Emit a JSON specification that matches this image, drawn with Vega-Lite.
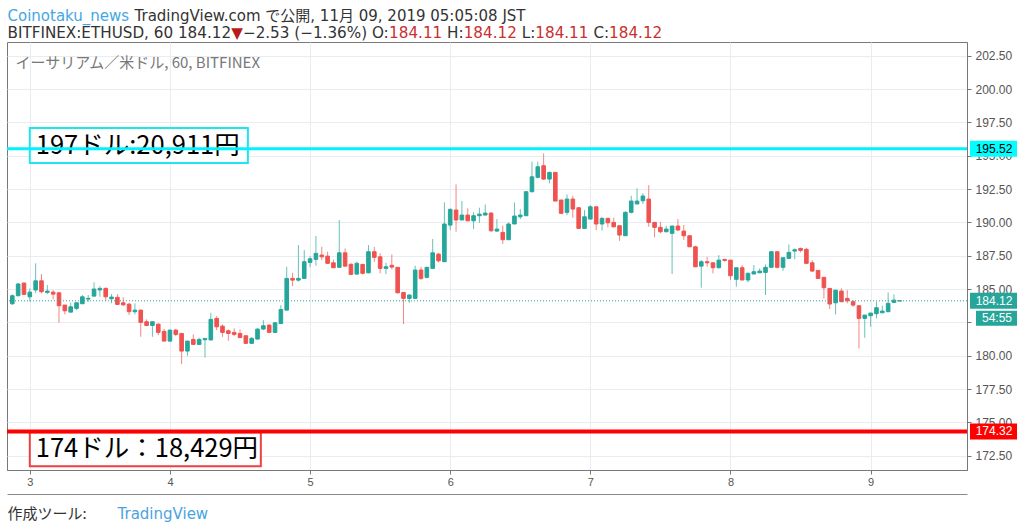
{
  "$schema": "https://vega.github.io/schema/vega-lite/v6.json",
  "width": 960,
  "height": 428,
  "autosize": {"type": "none"},
  "padding": {"left": 7, "top": 42, "right": 57, "bottom": 60},
  "background": "#ffffff",
  "datasets": {
    "candles": [
      {"t": "2019-11-02T21:00Z", "o": 183.9, "h": 184.6, "l": 183.8, "c": 184.5},
      {"t": "2019-11-02T22:00Z", "o": 184.5, "h": 185.45, "l": 184.45, "c": 185.38},
      {"t": "2019-11-02T23:00Z", "o": 185.45, "h": 185.5, "l": 184.55, "c": 184.6},
      {"t": "2019-11-03T00:00Z", "o": 184.42, "h": 185.05, "l": 184.05, "c": 184.77},
      {"t": "2019-11-03T01:00Z", "o": 184.93, "h": 186.93, "l": 184.68, "c": 185.62},
      {"t": "2019-11-03T02:00Z", "o": 185.62, "h": 186.13, "l": 184.68, "c": 184.8},
      {"t": "2019-11-03T03:00Z", "o": 184.75, "h": 185.3, "l": 184.62, "c": 184.85},
      {"t": "2019-11-03T04:00Z", "o": 184.77, "h": 184.92, "l": 184.23, "c": 184.62},
      {"t": "2019-11-03T05:00Z", "o": 184.72, "h": 184.75, "l": 182.47, "c": 183.75},
      {"t": "2019-11-03T06:00Z", "o": 183.8, "h": 183.8, "l": 183.1, "c": 183.37},
      {"t": "2019-11-03T07:00Z", "o": 183.27, "h": 183.97, "l": 183.27, "c": 183.67},
      {"t": "2019-11-03T08:00Z", "o": 183.55, "h": 184.0, "l": 183.42, "c": 183.97},
      {"t": "2019-11-03T09:00Z", "o": 183.9, "h": 184.55, "l": 183.9, "c": 184.42},
      {"t": "2019-11-03T10:00Z", "o": 184.25, "h": 184.55, "l": 184.05, "c": 184.3},
      {"t": "2019-11-03T11:00Z", "o": 184.47, "h": 185.5, "l": 184.47, "c": 185.0},
      {"t": "2019-11-03T12:00Z", "o": 184.93, "h": 185.22, "l": 184.42, "c": 185.05},
      {"t": "2019-11-03T13:00Z", "o": 185.05, "h": 185.13, "l": 184.12, "c": 184.42},
      {"t": "2019-11-03T14:00Z", "o": 184.27, "h": 184.62, "l": 183.93, "c": 184.4},
      {"t": "2019-11-03T15:00Z", "o": 184.38, "h": 184.62, "l": 183.8, "c": 183.85},
      {"t": "2019-11-03T16:00Z", "o": 183.97, "h": 184.38, "l": 183.72, "c": 183.82},
      {"t": "2019-11-03T17:00Z", "o": 183.87, "h": 183.97, "l": 183.05, "c": 183.3},
      {"t": "2019-11-03T18:00Z", "o": 183.3, "h": 183.93, "l": 183.1, "c": 183.42},
      {"t": "2019-11-03T19:00Z", "o": 183.42, "h": 183.45, "l": 181.42, "c": 182.5},
      {"t": "2019-11-03T20:00Z", "o": 182.55, "h": 182.73, "l": 182.22, "c": 182.27},
      {"t": "2019-11-03T21:00Z", "o": 182.27, "h": 182.6, "l": 181.42, "c": 182.55},
      {"t": "2019-11-03T22:00Z", "o": 182.37, "h": 182.4, "l": 181.55, "c": 181.75},
      {"t": "2019-11-03T23:00Z", "o": 181.83, "h": 182.02, "l": 181.1, "c": 181.1},
      {"t": "2019-11-04T00:00Z", "o": 181.1, "h": 181.97, "l": 181.05, "c": 181.92},
      {"t": "2019-11-04T01:00Z", "o": 181.92, "h": 182.02, "l": 181.47, "c": 181.6},
      {"t": "2019-11-04T02:00Z", "o": 181.67, "h": 181.7, "l": 179.37, "c": 180.35},
      {"t": "2019-11-04T03:00Z", "o": 180.35, "h": 181.1, "l": 180.0, "c": 181.1},
      {"t": "2019-11-04T04:00Z", "o": 181.22, "h": 181.6, "l": 180.8, "c": 180.85},
      {"t": "2019-11-04T05:00Z", "o": 180.85, "h": 181.35, "l": 180.8, "c": 181.22},
      {"t": "2019-11-04T06:00Z", "o": 181.2, "h": 181.3, "l": 179.87, "c": 181.3},
      {"t": "2019-11-04T07:00Z", "o": 181.18, "h": 183.22, "l": 181.18, "c": 182.73},
      {"t": "2019-11-04T08:00Z", "o": 182.8, "h": 182.97, "l": 181.92, "c": 182.17},
      {"t": "2019-11-04T09:00Z", "o": 182.22, "h": 182.35, "l": 181.42, "c": 181.75},
      {"t": "2019-11-04T10:00Z", "o": 181.87, "h": 181.97, "l": 181.12, "c": 181.67},
      {"t": "2019-11-04T11:00Z", "o": 181.75, "h": 182.05, "l": 181.47, "c": 181.6},
      {"t": "2019-11-04T12:00Z", "o": 181.67, "h": 181.97, "l": 181.3, "c": 181.37},
      {"t": "2019-11-04T13:00Z", "o": 181.5, "h": 181.5, "l": 180.87, "c": 180.93},
      {"t": "2019-11-04T14:00Z", "o": 180.93, "h": 181.42, "l": 180.87, "c": 181.3},
      {"t": "2019-11-04T15:00Z", "o": 181.25, "h": 182.05, "l": 181.22, "c": 182.0},
      {"t": "2019-11-04T16:00Z", "o": 182.0, "h": 182.67, "l": 181.92, "c": 182.25},
      {"t": "2019-11-04T17:00Z", "o": 182.3, "h": 182.35, "l": 181.72, "c": 181.75},
      {"t": "2019-11-04T18:00Z", "o": 181.75, "h": 182.5, "l": 181.72, "c": 182.47},
      {"t": "2019-11-04T19:00Z", "o": 182.42, "h": 183.8, "l": 182.42, "c": 183.47},
      {"t": "2019-11-04T20:00Z", "o": 183.42, "h": 186.67, "l": 183.42, "c": 185.8},
      {"t": "2019-11-04T21:00Z", "o": 185.8, "h": 186.22, "l": 185.22, "c": 185.67},
      {"t": "2019-11-04T22:00Z", "o": 185.67, "h": 188.3, "l": 185.55, "c": 185.8},
      {"t": "2019-11-04T23:00Z", "o": 185.8, "h": 187.92, "l": 185.8, "c": 187.05},
      {"t": "2019-11-05T00:00Z", "o": 187.0, "h": 187.47, "l": 186.63, "c": 187.27},
      {"t": "2019-11-05T01:00Z", "o": 187.23, "h": 188.98, "l": 186.75, "c": 187.68},
      {"t": "2019-11-05T02:00Z", "o": 187.55, "h": 188.17, "l": 187.17, "c": 187.42},
      {"t": "2019-11-05T03:00Z", "o": 187.47, "h": 187.8, "l": 186.87, "c": 186.93},
      {"t": "2019-11-05T04:00Z", "o": 186.97, "h": 187.22, "l": 186.6, "c": 186.6},
      {"t": "2019-11-05T05:00Z", "o": 186.63, "h": 190.17, "l": 186.63, "c": 187.72},
      {"t": "2019-11-05T06:00Z", "o": 187.72, "h": 188.05, "l": 186.67, "c": 186.72},
      {"t": "2019-11-05T07:00Z", "o": 186.85, "h": 186.97, "l": 186.05, "c": 186.1},
      {"t": "2019-11-05T08:00Z", "o": 186.12, "h": 187.05, "l": 186.12, "c": 186.93},
      {"t": "2019-11-05T09:00Z", "o": 186.85, "h": 186.85, "l": 186.1, "c": 186.18},
      {"t": "2019-11-05T10:00Z", "o": 186.22, "h": 188.3, "l": 186.18, "c": 187.8},
      {"t": "2019-11-05T11:00Z", "o": 187.8, "h": 188.17, "l": 187.05, "c": 187.38},
      {"t": "2019-11-05T12:00Z", "o": 187.42, "h": 187.68, "l": 186.18, "c": 186.55},
      {"t": "2019-11-05T13:00Z", "o": 186.55, "h": 186.97, "l": 186.12, "c": 186.67},
      {"t": "2019-11-05T14:00Z", "o": 186.78, "h": 187.6, "l": 186.48, "c": 186.65},
      {"t": "2019-11-05T15:00Z", "o": 186.63, "h": 186.63, "l": 184.68, "c": 184.72},
      {"t": "2019-11-05T16:00Z", "o": 184.75, "h": 184.75, "l": 182.38, "c": 184.3},
      {"t": "2019-11-05T17:00Z", "o": 184.3, "h": 184.62, "l": 183.97, "c": 184.55},
      {"t": "2019-11-05T18:00Z", "o": 184.3, "h": 186.75, "l": 184.3, "c": 186.43},
      {"t": "2019-11-05T19:00Z", "o": 186.43, "h": 186.67, "l": 185.67, "c": 185.8},
      {"t": "2019-11-05T20:00Z", "o": 185.88, "h": 186.67, "l": 185.8, "c": 186.63},
      {"t": "2019-11-05T21:00Z", "o": 186.55, "h": 188.75, "l": 186.55, "c": 187.72},
      {"t": "2019-11-05T22:00Z", "o": 187.62, "h": 187.72, "l": 187.0, "c": 187.12},
      {"t": "2019-11-05T23:00Z", "o": 187.05, "h": 191.5, "l": 187.05, "c": 189.88},
      {"t": "2019-11-06T00:00Z", "o": 189.8, "h": 191.05, "l": 189.42, "c": 190.98},
      {"t": "2019-11-06T01:00Z", "o": 190.93, "h": 192.85, "l": 189.3, "c": 190.18},
      {"t": "2019-11-06T02:00Z", "o": 190.18, "h": 191.6, "l": 190.18, "c": 190.55},
      {"t": "2019-11-06T03:00Z", "o": 190.55, "h": 191.05, "l": 190.12, "c": 190.12},
      {"t": "2019-11-06T04:00Z", "o": 190.12, "h": 190.75, "l": 189.5, "c": 190.5},
      {"t": "2019-11-06T05:00Z", "o": 190.5, "h": 191.1, "l": 189.97, "c": 190.62},
      {"t": "2019-11-06T06:00Z", "o": 190.55, "h": 191.35, "l": 190.55, "c": 190.7},
      {"t": "2019-11-06T07:00Z", "o": 190.7, "h": 190.75, "l": 189.3, "c": 189.37},
      {"t": "2019-11-06T08:00Z", "o": 189.35, "h": 190.25, "l": 189.3, "c": 189.5},
      {"t": "2019-11-06T09:00Z", "o": 189.25, "h": 189.75, "l": 188.38, "c": 188.7},
      {"t": "2019-11-06T10:00Z", "o": 188.7, "h": 190.0, "l": 188.7, "c": 189.88},
      {"t": "2019-11-06T11:00Z", "o": 189.88, "h": 191.5, "l": 189.88, "c": 190.48},
      {"t": "2019-11-06T12:00Z", "o": 190.42, "h": 191.0, "l": 190.25, "c": 190.55},
      {"t": "2019-11-06T13:00Z", "o": 190.5, "h": 192.3, "l": 190.5, "c": 192.3},
      {"t": "2019-11-06T14:00Z", "o": 192.3, "h": 194.55, "l": 192.25, "c": 193.42},
      {"t": "2019-11-06T15:00Z", "o": 193.38, "h": 194.55, "l": 193.3, "c": 194.17},
      {"t": "2019-11-06T16:00Z", "o": 194.25, "h": 195.18, "l": 193.18, "c": 193.25},
      {"t": "2019-11-06T17:00Z", "o": 193.25, "h": 193.8, "l": 192.93, "c": 193.75},
      {"t": "2019-11-06T18:00Z", "o": 193.75, "h": 193.75, "l": 191.6, "c": 191.6},
      {"t": "2019-11-06T19:00Z", "o": 191.68, "h": 191.68, "l": 190.62, "c": 190.68},
      {"t": "2019-11-06T20:00Z", "o": 190.75, "h": 192.1, "l": 190.55, "c": 191.75},
      {"t": "2019-11-06T21:00Z", "o": 191.75, "h": 192.0, "l": 190.35, "c": 191.0},
      {"t": "2019-11-06T22:00Z", "o": 191.1, "h": 191.1, "l": 189.55, "c": 189.55},
      {"t": "2019-11-06T23:00Z", "o": 189.55, "h": 190.92, "l": 189.55, "c": 190.42},
      {"t": "2019-11-07T00:00Z", "o": 190.25, "h": 191.3, "l": 190.25, "c": 191.17},
      {"t": "2019-11-07T01:00Z", "o": 191.17, "h": 191.17, "l": 189.42, "c": 189.88},
      {"t": "2019-11-07T02:00Z", "o": 189.88, "h": 190.42, "l": 189.38, "c": 190.3},
      {"t": "2019-11-07T03:00Z", "o": 190.3, "h": 190.35, "l": 189.63, "c": 189.97},
      {"t": "2019-11-07T04:00Z", "o": 190.0, "h": 190.35, "l": 189.63, "c": 189.67},
      {"t": "2019-11-07T05:00Z", "o": 189.75, "h": 189.8, "l": 188.62, "c": 189.05},
      {"t": "2019-11-07T06:00Z", "o": 189.0, "h": 190.85, "l": 189.0, "c": 190.75},
      {"t": "2019-11-07T07:00Z", "o": 190.75, "h": 192.0, "l": 190.68, "c": 191.6},
      {"t": "2019-11-07T08:00Z", "o": 191.38, "h": 192.55, "l": 191.38, "c": 191.6},
      {"t": "2019-11-07T09:00Z", "o": 191.62, "h": 192.18, "l": 191.38, "c": 191.98},
      {"t": "2019-11-07T10:00Z", "o": 191.75, "h": 192.8, "l": 189.67, "c": 190.0},
      {"t": "2019-11-07T11:00Z", "o": 190.0, "h": 190.0, "l": 188.88, "c": 189.63},
      {"t": "2019-11-07T12:00Z", "o": 189.63, "h": 190.05, "l": 189.18, "c": 189.3},
      {"t": "2019-11-07T13:00Z", "o": 189.3, "h": 189.75, "l": 189.25, "c": 189.5},
      {"t": "2019-11-07T14:00Z", "o": 189.18, "h": 189.73, "l": 186.13, "c": 189.73},
      {"t": "2019-11-07T15:00Z", "o": 189.73, "h": 190.25, "l": 189.35, "c": 189.43},
      {"t": "2019-11-07T16:00Z", "o": 189.35, "h": 189.8, "l": 188.68, "c": 189.0},
      {"t": "2019-11-07T17:00Z", "o": 189.0, "h": 189.0, "l": 188.17, "c": 188.17},
      {"t": "2019-11-07T18:00Z", "o": 188.17, "h": 188.25, "l": 186.67, "c": 186.67},
      {"t": "2019-11-07T19:00Z", "o": 186.72, "h": 187.17, "l": 185.1, "c": 187.05},
      {"t": "2019-11-07T20:00Z", "o": 187.05, "h": 187.42, "l": 186.67, "c": 186.97},
      {"t": "2019-11-07T21:00Z", "o": 186.97, "h": 186.97, "l": 186.17, "c": 186.6},
      {"t": "2019-11-07T22:00Z", "o": 186.6, "h": 187.55, "l": 186.55, "c": 187.17},
      {"t": "2019-11-07T23:00Z", "o": 187.22, "h": 187.22, "l": 187.05, "c": 187.15},
      {"t": "2019-11-08T00:00Z", "o": 187.17, "h": 187.17, "l": 185.68, "c": 186.0},
      {"t": "2019-11-08T01:00Z", "o": 185.73, "h": 186.6, "l": 185.17, "c": 186.6},
      {"t": "2019-11-08T02:00Z", "o": 186.6, "h": 186.8, "l": 185.68, "c": 185.68},
      {"t": "2019-11-08T03:00Z", "o": 185.68, "h": 186.25, "l": 185.5, "c": 186.18},
      {"t": "2019-11-08T04:00Z", "o": 186.13, "h": 186.8, "l": 186.13, "c": 186.3},
      {"t": "2019-11-08T05:00Z", "o": 186.22, "h": 186.55, "l": 186.22, "c": 186.35},
      {"t": "2019-11-08T06:00Z", "o": 186.25, "h": 186.85, "l": 184.55, "c": 186.63},
      {"t": "2019-11-08T07:00Z", "o": 186.63, "h": 187.85, "l": 186.63, "c": 187.8},
      {"t": "2019-11-08T08:00Z", "o": 187.8, "h": 187.8, "l": 186.55, "c": 186.63},
      {"t": "2019-11-08T09:00Z", "o": 186.63, "h": 187.35, "l": 186.37, "c": 187.35},
      {"t": "2019-11-08T10:00Z", "o": 187.3, "h": 188.35, "l": 187.3, "c": 187.75},
      {"t": "2019-11-08T11:00Z", "o": 187.85, "h": 188.05, "l": 187.25, "c": 187.95},
      {"t": "2019-11-08T12:00Z", "o": 188.05, "h": 188.1, "l": 187.75, "c": 187.9},
      {"t": "2019-11-08T13:00Z", "o": 187.98, "h": 188.1, "l": 186.85, "c": 186.93},
      {"t": "2019-11-08T14:00Z", "o": 186.97, "h": 187.17, "l": 186.3, "c": 186.35},
      {"t": "2019-11-08T15:00Z", "o": 186.4, "h": 186.4, "l": 185.75, "c": 185.8},
      {"t": "2019-11-08T16:00Z", "o": 185.88, "h": 185.88, "l": 184.3, "c": 185.1},
      {"t": "2019-11-08T17:00Z", "o": 185.05, "h": 185.05, "l": 183.5, "c": 183.88},
      {"t": "2019-11-08T18:00Z", "o": 183.97, "h": 184.92, "l": 183.1, "c": 184.92},
      {"t": "2019-11-08T19:00Z", "o": 184.85, "h": 185.05, "l": 184.05, "c": 184.05},
      {"t": "2019-11-08T20:00Z", "o": 184.3, "h": 184.92, "l": 183.93, "c": 184.12},
      {"t": "2019-11-08T21:00Z", "o": 184.05, "h": 184.17, "l": 183.67, "c": 183.8},
      {"t": "2019-11-08T22:00Z", "o": 183.75, "h": 183.75, "l": 180.55, "c": 182.8},
      {"t": "2019-11-08T23:00Z", "o": 182.8, "h": 183.05, "l": 181.35, "c": 183.05},
      {"t": "2019-11-09T00:00Z", "o": 183.0, "h": 183.2, "l": 182.17, "c": 183.2},
      {"t": "2019-11-09T01:00Z", "o": 183.15, "h": 184.05, "l": 182.8, "c": 183.6},
      {"t": "2019-11-09T02:00Z", "o": 183.22, "h": 183.75, "l": 183.22, "c": 183.35},
      {"t": "2019-11-09T03:00Z", "o": 183.3, "h": 184.75, "l": 183.3, "c": 183.93},
      {"t": "2019-11-09T04:00Z", "o": 184.0, "h": 184.6, "l": 184.0, "c": 184.17},
      {"t": "2019-11-09T05:00Z", "o": 184.11, "h": 184.12, "l": 184.11, "c": 184.12}
    ],
    "notes": [
      {"t0": "2019-11-03T00:00Z", "t1": "2019-11-04T13:21Z", "p0": 197.08, "p1": 194.45, "tp": 195.75, "txt": "197ドル:20,911円", "k": "cyan"},
      {"t0": "2019-11-03T00:00Z", "t1": "2019-11-04T15:34Z", "p0": 174.27, "p1": 171.72, "tp": 173.0, "txt": "174ドル：18,429円", "k": "red"}
    ],
    "levels": [
      {"p": 195.52, "lbl": "195.52", "k": "cyan"},
      {"p": 184.12, "lbl": "184.12", "k": "last"},
      {"p": 174.32, "lbl": "174.32", "k": "red"}
    ],
    "timer": [
      {"p": 184.12, "lbl": "54:55"}
    ]
  },
  "resolve": {"axis": {"x": "independent", "y": "independent"}},
  "layer": [
    {
      "data": {"name": "notes"},
      "mark": {"type": "rect", "fill": "#ffffff", "strokeWidth": 2},
      "encoding": {
        "x": {"field": "t0", "type": "temporal", "scale": {"type": "utc"},
          "axis": {"orient": "top", "title": "イーサリアム／米ドル, 60, BITFINEX", "titleX": 8, "titleY": 25.5,
            "titleFont": "Noto Sans CJK JP", "titleFontSize": 15, "titleColor": "#787878"}},
        "x2": {"field": "t1"},
        "y": {"field": "p0", "type": "quantitative",
          "axis": {"orient": "left", "title": "Coinotaku_news", "titleX": 0, "titleY": -22, "titleFontSize": 15, "titleColor": "#45a6e4"}},
        "y2": {"field": "p1"},
        "stroke": {"field": "k", "type": "nominal", "legend": null,
          "scale": {"domain": ["cyan", "red"], "range": ["#1ee6f0", "#ef4040"]}}
      }
    },
    {
      "data": {"name": "notes"},
      "mark": {"type": "text", "align": "left", "baseline": "middle", "dx": 6, "font": "Noto Sans CJK JP", "fontSize": 25.5, "color": "#000000"},
      "encoding": {
        "x": {"field": "t0", "type": "temporal", "scale": {"type": "utc"},
          "axis": {"orient": "bottom", "offset": 24, "domain": true, "domainColor": "#8a8a8a",
            "title": "−2.53 (−1.36%) O:", "titleX": 235.4, "titleY": -457}},
        "y": {"field": "tp", "type": "quantitative",
          "axis": {"orient": "left", "title": "TradingView.com で公開, 11月 09, 2019 05:05:08 JST", "titleX": 127, "titleY": -22, "titleFontSize": 15}},
        "text": {"field": "txt"}
      }
    },
    {
      "data": {"name": "candles"},
      "mark": {"type": "rule", "strokeWidth": 1, "opacity": 0.7, "clip": true},
      "encoding": {
        "x": {"field": "t", "type": "temporal", "scale": {"type": "utc"},
          "axis": {"orient": "top", "title": "BITFINEX:ETHUSD, 60 184.12", "titleX": 0, "titleY": -5}},
        "y": {"field": "l", "type": "quantitative",
          "axis": {"orient": "left", "title": "▼", "titleX": 223.7, "titleY": -5, "titleColor": "#b71c1c"}},
        "y2": {"field": "h"},
        "color": {"condition": {"test": "datum.c >= datum.o", "value": "#26a69a"}, "value": "#ef5350"}
      }
    },
    {
      "data": {"name": "candles"},
      "mark": {"type": "bar", "size": 3.6, "strokeWidth": 1, "clip": true},
      "encoding": {
        "x": {"field": "t", "type": "temporal",
          "scale": {"type": "utc", "nice": false,
            "domain": [
              {"year": 2019, "month": 11, "date": 2, "hours": 20, "minutes": 57, "utc": true},
              {"year": 2019, "month": 11, "date": 9, "hours": 15, "minutes": 39, "utc": true}
            ]},
          "axis": {"orient": "bottom", "labelExpr": "utcFormat(datum.value, '%-d')",
            "values": [
              {"year": 2019, "month": 11, "date": 3, "utc": true},
              {"year": 2019, "month": 11, "date": 4, "utc": true},
              {"year": 2019, "month": 11, "date": 5, "utc": true},
              {"year": 2019, "month": 11, "date": 6, "utc": true},
              {"year": 2019, "month": 11, "date": 7, "utc": true},
              {"year": 2019, "month": 11, "date": 8, "utc": true},
              {"year": 2019, "month": 11, "date": 9, "utc": true}
            ],
            "labels": true, "ticks": true, "domain": true, "grid": true,
            "gridColor": "#e9edf1", "domainColor": "#787878", "tickColor": "#787878", "tickSize": 4,
            "labelColor": "#555555", "labelFont": "Liberation Sans", "labelFontSize": 11, "labelPadding": 2,
            "title": "作成ツール:", "titleX": 0, "titleY": 48, "titleFont": "Noto Sans CJK JP", "titleFontSize": 15}},
        "y": {"field": "o", "type": "quantitative",
          "scale": {"domain": [171.43, 203.53], "nice": false, "zero": false},
          "axis": {"orient": "right",
            "values": [172.5, 175, 177.5, 180, 182.5, 185, 187.5, 190, 192.5, 195, 197.5, 200, 202.5],
            "labelExpr": "datum.value == 182.5 ? '' : format(datum.value, '.2f')",
            "labels": true, "ticks": true, "domain": true, "grid": true,
            "gridColor": "#e9edf1", "domainColor": "#787878", "tickColor": "#787878", "tickSize": 4,
            "labelColor": "#555555", "labelFont": "Liberation Sans", "labelFontSize": 12, "labelPadding": 4,
            "title": "TradingView", "titleX": -850, "titleY": 476, "titleFontSize": 15, "titleColor": "#4aa3df"}},
        "y2": {"field": "c"},
        "color": {"condition": {"test": "datum.c >= datum.o", "value": "#26a69a"}, "value": "#ef5350"},
        "stroke": {"condition": {"test": "datum.c >= datum.o", "value": "#26a69a"}, "value": "#ef5350"}
      }
    },
    {
      "data": {"name": "levels"},
      "transform": [{"filter": "datum.k == 'cyan'"}],
      "mark": {"type": "rule", "color": "#00f2ff", "strokeWidth": 3},
      "encoding": {
        "y": {"field": "p", "type": "quantitative",
          "axis": {"orient": "left", "title": "184.11", "titleX": 381.6, "titleY": -5, "titleColor": "#c93030"}}
      }
    },
    {
      "data": {"name": "levels"},
      "transform": [{"filter": "datum.k == 'red'"}],
      "mark": {"type": "rule", "color": "#ff0000", "strokeWidth": 4},
      "encoding": {
        "y": {"field": "p", "type": "quantitative",
          "axis": {"orient": "left", "title": "H:", "titleX": 439.6, "titleY": -5}}
      }
    },
    {
      "data": {"name": "levels"},
      "transform": [{"filter": "datum.k == 'last'"}],
      "mark": {"type": "rule", "color": "#26a69a", "strokeWidth": 1, "strokeDash": [1, 2]},
      "encoding": {
        "y": {"field": "p", "type": "quantitative",
          "axis": {"orient": "left", "title": "184.12", "titleX": 456.2, "titleY": -5, "titleColor": "#c93030"}}
      }
    },
    {
      "data": {"name": "levels"},
      "mark": {"type": "rect", "xOffset": 3, "x2Offset": 50, "yOffset": -8, "y2Offset": 8},
      "encoding": {
        "x": {"value": "width"},
        "x2": {"value": "width"},
        "y": {"field": "p", "type": "quantitative",
          "axis": {"orient": "left", "title": "L:", "titleX": 514.2, "titleY": -5}},
        "y2": {"field": "p"},
        "fill": {"field": "k", "type": "nominal", "legend": null,
          "scale": {"domain": ["cyan", "last", "red"], "range": ["#00ffff", "#26a69a", "#ff0000"]}}
      }
    },
    {
      "data": {"name": "levels"},
      "mark": {"type": "text", "align": "center", "baseline": "middle", "dx": 27, "font": "Liberation Sans", "fontSize": 12},
      "encoding": {
        "x": {"value": "width"},
        "y": {"field": "p", "type": "quantitative",
          "axis": {"orient": "left", "title": "184.11", "titleX": 527.8, "titleY": -5, "titleColor": "#c93030"}},
        "text": {"field": "lbl"},
        "color": {"field": "k", "type": "nominal", "legend": null,
          "scale": {"domain": ["cyan", "last", "red"], "range": ["#000000", "#ffffff", "#ffffff"]}}
      }
    },
    {
      "data": {"name": "timer"},
      "mark": {"type": "rect", "fill": "#26a69a", "xOffset": 9, "x2Offset": 50, "yOffset": 10, "y2Offset": 25},
      "encoding": {
        "x": {"value": "width"},
        "x2": {"value": "width"},
        "y": {"field": "p", "type": "quantitative",
          "axis": {"orient": "left", "title": "C:", "titleX": 585.9, "titleY": -5}},
        "y2": {"field": "p"}
      }
    },
    {
      "data": {"name": "timer"},
      "mark": {"type": "text", "align": "center", "baseline": "middle", "dx": 30, "dy": 17.5, "font": "Liberation Sans", "fontSize": 12, "color": "#ffffff"},
      "encoding": {
        "x": {"value": "width"},
        "y": {"field": "p", "type": "quantitative",
          "axis": {"orient": "left", "title": "184.12", "titleX": 601.6, "titleY": -5, "titleColor": "#c93030"}},
        "text": {"field": "lbl"}
      }
    }
  ],
  "config": {
    "font": "DejaVu Sans",
    "view": {"stroke": "#787878", "strokeWidth": 1},
    "axis": {
      "labels": false, "ticks": false, "domain": false, "grid": false,
      "titleFont": "DejaVu Sans, Noto Sans CJK JP", "titleFontSize": 15.2, "titleFontWeight": "normal",
      "titleColor": "#333333", "titleAlign": "left", "titleBaseline": "alphabetic", "titleAngle": 0,
      "titleLimit": 1000, "titlePadding": 0
    }
  }
}
